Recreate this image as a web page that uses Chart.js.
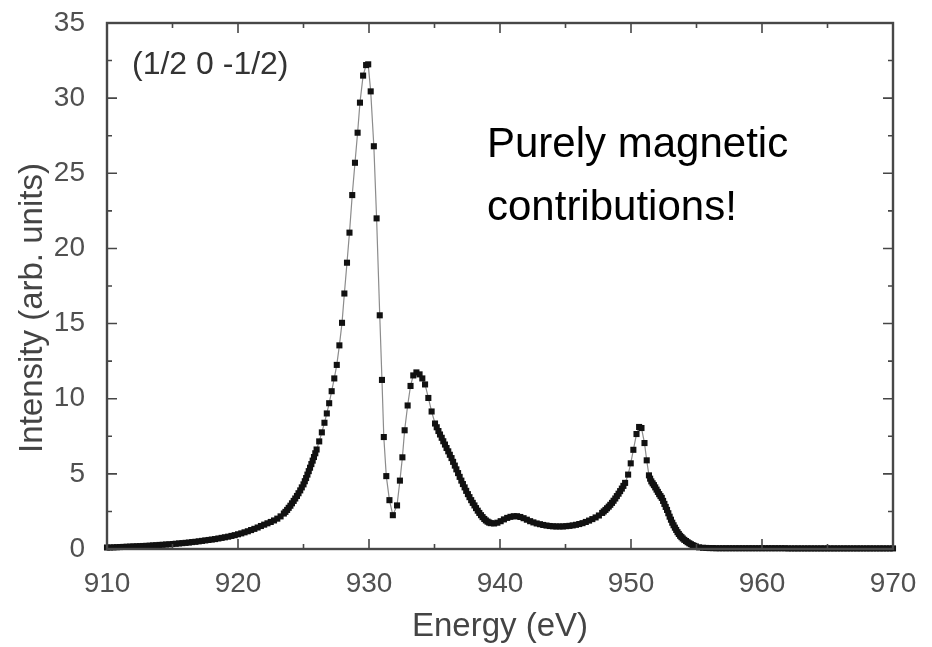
<!DOCTYPE html>
<html lang="en">
<head>
<meta charset="UTF-8">
<title>(1/2 0 -1/2) intensity vs energy</title>
<script src="https://cdn.jsdelivr.net/npm/chart.js"></script>
<style>
  html, body { margin: 0; padding: 0; background: #fff; }
  #wrap { width: 932px; height: 647px; }
</style>
</head>
<body>
<div id="wrap"><canvas id="spectrum"></canvas></div>
<script>
// energy scan (eV) and intensity (arb. units)
const energy = [
  910.00, 910.25, 910.50, 910.75, 911.00, 911.25, 911.50, 911.75, 912.00, 912.25,
  912.50, 912.75, 913.00, 913.25, 913.50, 913.75, 914.00, 914.25, 914.50, 914.75,
  915.00, 915.25, 915.50, 915.75, 916.00, 916.25, 916.50, 916.75, 917.00, 917.25,
  917.50, 917.75, 918.00, 918.25, 918.50, 918.75, 919.00, 919.25, 919.50, 919.75,
  920.00, 920.25, 920.50, 920.75, 921.00, 921.25, 921.50, 921.75, 922.00, 922.25,
  922.50, 922.75, 923.00, 923.25, 923.50, 923.62, 923.75, 923.87, 924.00, 924.12,
  924.25, 924.37, 924.50, 924.62, 924.75, 924.87, 925.00, 925.10, 925.20, 925.30,
  925.40, 925.50, 925.60, 925.70, 925.80, 925.90, 926.00, 926.20, 926.40, 926.60,
  926.78, 926.96, 927.15, 927.35, 927.54, 927.74, 927.94, 928.12, 928.32, 928.51,
  928.72, 928.93, 929.13, 929.31, 929.55, 929.78, 929.94, 930.13, 930.37, 930.58,
  930.82, 930.99, 931.13, 931.32, 931.56, 931.82, 932.14, 932.36, 932.55, 932.72,
  932.95, 933.17, 933.38, 933.62, 933.86, 934.07, 934.28, 934.53, 934.78, 935.04,
  935.17, 935.30, 935.42, 935.55, 935.67, 935.80, 935.92, 936.05, 936.17, 936.30,
  936.42, 936.55, 936.67, 936.80, 936.92, 937.05, 937.17, 937.30, 937.42, 937.55,
  937.67, 937.80, 937.92, 938.05, 938.17, 938.30, 938.42, 938.55, 938.67, 938.80,
  938.92, 939.05, 939.17, 939.30, 939.55, 939.80, 940.05, 940.30, 940.55, 940.80,
  941.05, 941.30, 941.55, 941.80, 942.05, 942.30, 942.55, 942.80, 943.05, 943.30,
  943.55, 943.80, 944.05, 944.30, 944.55, 944.80, 945.05, 945.30, 945.55, 945.80,
  946.05, 946.30, 946.55, 946.80, 947.05, 947.30, 947.55, 947.80, 947.92, 948.05,
  948.17, 948.30, 948.42, 948.55, 948.67, 948.80, 948.92, 949.05, 949.17, 949.30,
  949.42, 949.55, 949.78, 949.98, 950.18, 950.42, 950.62, 950.80, 951.03, 951.20,
  951.37, 951.46, 951.55, 951.65, 951.75, 951.85, 951.95, 952.05, 952.15, 952.25,
  952.35, 952.45, 952.55, 952.65, 952.75, 952.85, 952.95, 953.05, 953.15, 953.25,
  953.35, 953.45, 953.55, 953.65, 953.75, 953.85, 953.95, 954.07, 954.20, 954.32,
  954.45, 954.57, 954.70, 954.82, 954.95, 955.20, 955.50, 955.75, 956.00, 956.25,
  956.50, 956.75, 957.00, 957.25, 957.50, 957.75, 958.00, 958.25, 958.50, 958.75,
  959.00, 959.25, 959.50, 959.75, 960.00, 960.25, 960.50, 960.75, 961.00, 961.25,
  961.50, 961.75, 962.00, 962.25, 962.50, 962.75, 963.00, 963.25, 963.50, 963.75,
  964.00, 964.25, 964.50, 964.75, 965.00, 965.25, 965.50, 965.75, 966.00, 966.25,
  966.50, 966.75, 967.00, 967.25, 967.50, 967.75, 968.00, 968.25, 968.50, 968.75,
  969.00, 969.25, 969.50, 969.75, 970.00
];
const intensity = [
  0.10, 0.10, 0.11, 0.12, 0.13, 0.14, 0.15, 0.16, 0.17, 0.18,
  0.19, 0.20, 0.21, 0.22, 0.24, 0.25, 0.27, 0.28, 0.30, 0.31,
  0.33, 0.35, 0.37, 0.39, 0.41, 0.43, 0.46, 0.48, 0.51, 0.54,
  0.57, 0.60, 0.63, 0.66, 0.70, 0.74, 0.78, 0.82, 0.87, 0.92,
  0.98, 1.04, 1.11, 1.18, 1.26, 1.34, 1.43, 1.53, 1.62, 1.71,
  1.80, 1.90, 2.02, 2.17, 2.36, 2.47, 2.60, 2.74, 2.88, 3.04,
  3.20, 3.36, 3.53, 3.71, 3.90, 4.10, 4.30, 4.51, 4.72, 4.95,
  5.18, 5.41, 5.65, 5.88, 6.12, 6.37, 6.62, 7.16, 7.76, 8.40,
  9.02, 9.70, 10.50, 11.35, 12.25, 13.55, 15.05, 17.00, 19.05, 21.05,
  23.55, 25.70, 27.70, 29.70, 31.50, 32.20, 32.25, 30.45, 26.80, 22.00,
  15.55, 11.25, 7.45, 4.85, 3.25, 2.25, 2.90, 4.55, 6.10, 7.90,
  9.55, 10.85, 11.55, 11.75, 11.62, 11.35, 10.95, 10.05, 9.15, 8.35,
  8.10, 7.85, 7.62, 7.40, 7.17, 6.95, 6.72, 6.50, 6.27, 6.05,
  5.80, 5.55, 5.30, 5.05, 4.80, 4.55, 4.32, 4.10, 3.87, 3.65,
  3.45, 3.25, 3.07, 2.90, 2.72, 2.55, 2.40, 2.25, 2.12, 2.00,
  1.90, 1.82, 1.76, 1.72, 1.70, 1.75, 1.85, 1.97, 2.07, 2.14,
  2.18, 2.18, 2.13, 2.05, 1.95, 1.85, 1.77, 1.70, 1.65, 1.60,
  1.56, 1.53, 1.51, 1.50, 1.50, 1.50, 1.52, 1.54, 1.57, 1.61,
  1.66, 1.72, 1.80, 1.89, 1.99, 2.10, 2.23, 2.40, 2.50, 2.60,
  2.71, 2.82, 2.94, 3.07, 3.21, 3.36, 3.52, 3.68, 3.85, 4.02,
  4.20, 4.40, 4.95, 5.70, 6.60, 7.65, 8.12, 8.05, 7.05, 5.90,
  4.90, 4.68, 4.50, 4.37, 4.25, 4.10, 3.95, 3.80, 3.65, 3.52,
  3.40, 3.20, 3.00, 2.80, 2.60, 2.38, 2.15, 1.95, 1.75, 1.58,
  1.42, 1.27, 1.12, 1.00, 0.88, 0.79, 0.70, 0.61, 0.53, 0.45,
  0.38, 0.32, 0.26, 0.21, 0.17, 0.11, 0.08, 0.07, 0.06, 0.06,
  0.05, 0.05, 0.05, 0.05, 0.05, 0.05, 0.05, 0.05, 0.05, 0.05,
  0.05, 0.05, 0.05, 0.05, 0.05, 0.05, 0.05, 0.05, 0.05, 0.05,
  0.05, 0.05, 0.04, 0.04, 0.04, 0.04, 0.04, 0.04, 0.04, 0.04,
  0.04, 0.04, 0.04, 0.04, 0.04, 0.04, 0.04, 0.04, 0.04, 0.04,
  0.04, 0.04, 0.04, 0.04, 0.04, 0.04, 0.04, 0.04, 0.04, 0.04,
  0.04, 0.04, 0.04, 0.04, 0.04
];

// axis ticks (inward tick marks on all four sides)
const xMajor = [910, 920, 930, 940, 950, 960, 970];
const xMinor = [915, 925, 935, 945, 955, 965];
const yMajor = [0, 5, 10, 15, 20, 25, 30, 35];
const yMinor = [2.5, 7.5, 12.5, 17.5, 22.5, 27.5, 32.5];

const reflection = '(1/2 0 -1/2)';
const note = ['Purely magnetic', 'contributions!'];
const yTitle = 'Intensity (arb. units)';

const FONT = "'Liberation Sans', Arial, Helvetica, sans-serif";

const points = energy.map((e, i) => ({ x: e, y: intensity[i] }));

// box around the plot area with tick marks pointing inwards
const frame = {
  id: 'frame',
  afterDatasetsDraw(chart) {
    const { ctx, chartArea: a, scales: { x, y } } = chart;
    ctx.save();
    ctx.strokeStyle = '#474747';
    ctx.lineWidth = 1.6;
    ctx.beginPath();
    const mark = (vals, len, horiz) => {
      vals.forEach(v => {
        if (horiz) {
          const p = x.getPixelForValue(v);
          ctx.moveTo(p, a.bottom); ctx.lineTo(p, a.bottom - len);
          ctx.moveTo(p, a.top); ctx.lineTo(p, a.top + len);
        } else {
          const p = y.getPixelForValue(v);
          ctx.moveTo(a.left, p); ctx.lineTo(a.left + len, p);
          ctx.moveTo(a.right, p); ctx.lineTo(a.right - len, p);
        }
      });
    };
    mark(xMajor, 10, true);
    mark(xMinor, 5, true);
    mark(yMajor, 10, false);
    mark(yMinor, 5, false);
    ctx.stroke();
    ctx.lineWidth = 2.4;
    ctx.strokeRect(a.left, a.top, a.right - a.left, a.bottom - a.top);
    ctx.restore();
  }
};

// text labels inside the plot, plus the y title (sits a bit below centre)
const labels = {
  id: 'labels',
  afterDraw(chart) {
    const { ctx, chartArea: a } = chart;
    ctx.save();
    ctx.textAlign = 'left';
    ctx.textBaseline = 'middle';
    ctx.fillStyle = '#333';
    ctx.font = '32px ' + FONT;
    ctx.fillText(reflection, a.left + 25, a.top + 42);
    ctx.textBaseline = 'alphabetic';
    ctx.fillStyle = '#000';
    ctx.font = '42px ' + FONT;
    ctx.fillText(note[0], a.left + 380, a.top + 134);
    ctx.fillText(note[1], a.left + 380, a.top + 197);

    ctx.translate(33, 308);
    ctx.rotate(-Math.PI / 2);
    ctx.textAlign = 'center';
    ctx.textBaseline = 'middle';
    ctx.fillStyle = '#444';
    ctx.font = '33px ' + FONT;
    ctx.fillText(yTitle, 0, 0);
    ctx.restore();
  }
};

new Chart(document.getElementById('spectrum'), {
  type: 'scatter',
  data: {
    datasets: [{
      label: reflection,
      data: points,
      showLine: true,
      borderColor: '#8c8c8c',
      borderWidth: 1.2,
      pointStyle: 'rect',
      pointRadius: 4.3,
      pointBorderWidth: 0,
      pointBackgroundColor: '#111',
      clip: false
    }]
  },
  options: {
    responsive: true,
    maintainAspectRatio: false,
    animation: false,
    layout: { padding: { top: 23, right: 39, bottom: 0, left: 0 } },
    plugins: { legend: { display: false }, tooltip: { enabled: false } },
    scales: {
      x: {
        type: 'linear',
        min: 910, max: 970,
        grid: { display: false },
        border: { display: false },
        ticks: { stepSize: 10, padding: 10, color: '#505050', font: { family: FONT, size: 28 } },
        title: { display: true, text: 'Energy (eV)', color: '#444', font: { family: FONT, size: 33 }, padding: { top: 0, bottom: 0 } },
        afterFit(scale) { scale.height = 98; }
      },
      y: {
        min: 0, max: 35,
        grid: { display: false },
        border: { display: false },
        ticks: { stepSize: 5, padding: 14, color: '#505050', font: { family: FONT, size: 28 } },
        afterFit(scale) {
          scale.width = 107;
          scale.paddingTop = 0;
          scale.paddingBottom = 0;
        }
      }
    }
  },
  plugins: [frame, labels]
});
</script>
</body>
</html>
